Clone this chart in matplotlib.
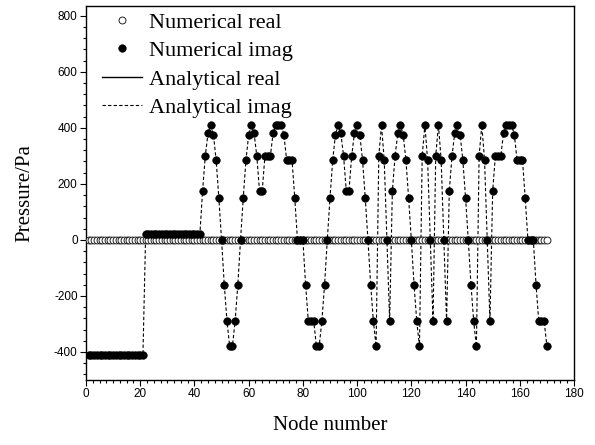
import matplotlib
matplotlib.use("Agg")
import matplotlib.pyplot as plt
from matplotlib.ticker import MultipleLocator

plt.rcParams["axes.unicode_minus"] = False

# ---- data ----
nodes = list(range(1, 171))
numerical_real = [0] * 170
analytical_real = [0] * 170
numerical_imag = (
    [-410] * 21 +            # nodes 1-21
    [20] * 21 +              # nodes 22-42
    [175, 300, 380, 410, 375, 285, 150, 0, -160, -290,           # 43-52
     -380, -380, -290, -160, 0, 150, 285, 375, 410, 380,          # 53-62
     300, 175, 175, 300, 300, 300, 380, 410, 410, 410,            # 63-72
     375, 285, 285, 285, 150, 0, 0, 0, -160, -290,                # 73-82
     -290, -290, -380, -380, -290, -160, 0, 150, 285, 375,        # 83-92
     410, 380, 300, 175, 175, 300, 380, 410, 375, 285,            # 93-102
     150, 0, -160, -290, -380, 300, 410, 285, 0, -290,            # 103-112
     175, 300, 380, 410, 375, 285, 150, 0, -160, -290,            # 113-122
     -380, 300, 410, 285, 0, -290, 300, 410, 285, 0,              # 123-132
     -290, 175, 300, 380, 410, 375, 285, 150, 0, -160,            # 133-142
     -290, -380, 300, 410, 285, 0, -290, 175, 300, 300,           # 143-152
     300, 380, 410, 410, 410, 375, 285, 285, 285, 150,            # 153-162
     0, 0, 0, -160, -290, -290, -290, -380]                       # 163-170
)
analytical_imag = numerical_imag

legend_labels = ["Numerical real", "Numerical imag", "Analytical real", "Analytical imag"]
x_label = "Node number"
y_label = "Pressure/Pa"

# ---- figure ----
fig = plt.figure(figsize=(5.95, 4.45), dpi=100)
ax = fig.add_axes([86/595, 1 - 380/445, (574-86)/595, (380-6)/445])

serif = ["Liberation Serif", "DejaVu Serif"]
sans = ["Liberation Sans", "DejaVu Sans"]

h_ar, = ax.plot(nodes, analytical_real, color="black", lw=1.0, zorder=1)
h_ai, = ax.plot(nodes, analytical_imag, color="black", lw=0.8,
                linestyle=(0, (3, 2)), zorder=2)
h_nr, = ax.plot(nodes, numerical_real, linestyle="none", marker="o",
                markersize=5.0, markerfacecolor="white",
                markeredgecolor="black", markeredgewidth=0.6, zorder=3)
h_ni, = ax.plot(nodes, numerical_imag, linestyle="none", marker="o",
                markersize=5.4, markerfacecolor="black",
                markeredgecolor="black", markeredgewidth=0.5, zorder=4)

ax.set_xlim(0, 180)
ax.set_ylim(-500, 835)
ax.xaxis.set_major_locator(MultipleLocator(20))
ax.xaxis.set_minor_locator(MultipleLocator(2.5))
ax.yaxis.set_major_locator(MultipleLocator(200))
ax.yaxis.set_minor_locator(MultipleLocator(40))
ax.tick_params(which="major", direction="out", length=4, width=0.8,
               labelsize=8.5, pad=2)
ax.tick_params(which="minor", direction="out", length=2.2, width=0.8)
for lab in ax.get_xticklabels() + ax.get_yticklabels():
    lab.set_family(sans)
for s in ax.spines.values():
    s.set_linewidth(1.0)

ax.set_xlabel(x_label, family=serif, fontsize=15, labelpad=11)
ax.set_ylabel(y_label, family=serif, fontsize=15, labelpad=14)

leg = ax.legend([h_nr, h_ni, h_ar, h_ai], legend_labels,
                loc="upper left", bbox_to_anchor=(102/595, 1 - 12/445),
                bbox_transform=fig.transFigure, frameon=False,
                prop={"family": serif, "size": 16}, numpoints=1,
                handlelength=1.8, handletextpad=0.3, labelspacing=0.36,
                borderpad=0, borderaxespad=0)

fig.savefig("out.png", dpi=100)
